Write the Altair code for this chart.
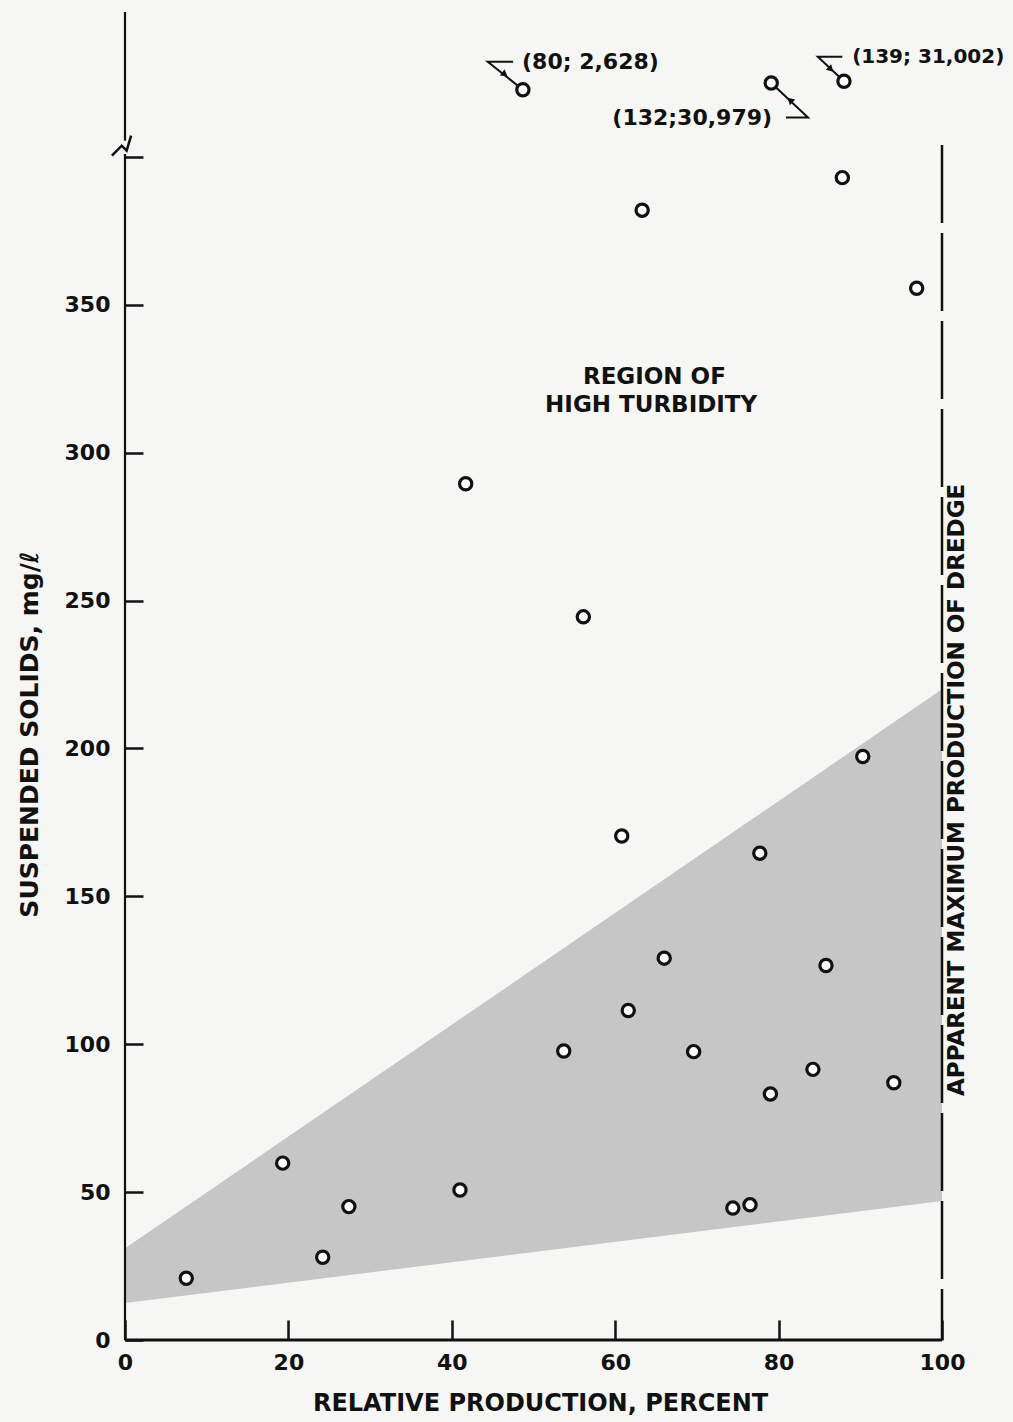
import altair as alt
import pandas as pd

# ---- data ----
prod = [7.5, 19.3, 24.2, 27.4, 41.0, 53.7, 61.6, 66.0, 69.6, 60.8, 56.1, 41.7,
        74.4, 76.5, 77.7, 79.0, 84.2, 85.8, 90.3, 94.1, 96.9, 87.8, 63.3]
solids = [20.9, 59.8, 28.0, 45.1, 50.7, 97.7, 111.4, 129.1, 97.5, 170.4, 244.5, 289.5,
          44.6, 45.7, 164.6, 83.2, 91.5, 126.6, 197.3, 87.0, 355.6, 393.0, 382.0]

# off-scale points (drawn above the axis break), with their true values as labels
off_prod = [48.7, 79.1, 88.0]
off_plot_y = [422.7, 425.0, 425.6]
off_labels = ["(80; 2,628)", "(132;30,979)", "(139; 31,002)"]

# shaded band limits
band_x = [0, 100]
band_low = [12.5, 47.0]
band_high = [31.0, 220.0]

x_ticks = [0, 20, 40, 60, 80, 100]
y_ticks = [0, 50, 100, 150, 200, 250, 300, 350, 400]

max_production = 100
dash_top = 404
y_top = 449

INK = "#111111"
BG = "#f6f6f5"
FONT = "DejaVu Sans"
FW = "bold"

W, H = 817, 1328
YT, XT = 18, 20  # inward tick lengths (px)

xs = alt.Scale(domain=[0, 100], nice=False, zero=True)
ys = alt.Scale(domain=[0, y_top], nice=False, zero=True)

pts = pd.DataFrame({"x": prod, "y": solids})
band = pd.DataFrame({"x": band_x, "lo": band_low, "hi": band_high})

# axes are shifted inward by the tick length so their ticks point into the plot
base_x = alt.X("x:Q", scale=xs,
               axis=alt.Axis(values=x_ticks, ticks=True, tickSize=XT, tickWidth=2.5,
                             tickColor=INK, offset=-XT, domain=False, grid=False,
                             labelPadding=12,
                             labelFontSize=22, labelFont=FONT, labelColor=INK,
                             labelFontWeight=FW,
                             title="RELATIVE PRODUCTION, PERCENT", titleFont=FONT,
                             titleFontSize=24, titleFontWeight=FW, titleColor=INK,
                             titleX=415, titleY=63 + XT, titleBaseline="middle",
                             titleAlign="center", labelFlush=False))
base_y = alt.Y("y:Q", scale=ys,
               axis=alt.Axis(values=y_ticks, ticks=True, tickSize=YT, tickWidth=2.5,
                             tickColor=INK, offset=-YT, domain=False, grid=False,
                             labelPadding=15,
                             labelFontSize=22, labelFont=FONT, labelColor=INK,
                             labelFontWeight=FW,
                             labelExpr="datum.value == 400 ? '' : datum.label",
                             title="SUSPENDED SOLIDS, mg/ℓ", titleFont=FONT,
                             titleFontSize=25, titleFontWeight=FW, titleColor=INK,
                             titleAngle=270, titleX=-96 - YT, titleY=722,
                             titleBaseline="middle", titleAlign="center",
                             labelFlush=False))


def X(f):
    return alt.X(f, scale=xs)


def Y(f):
    return alt.Y(f, scale=ys)


band_layer = alt.Chart(band).mark_area(color="#c6c6c6", opacity=1).encode(
    x=X("x:Q"), y=Y("lo:Q"), y2="hi:Q")

# axis lines
dom = pd.DataFrame({"g": ["x", "x", "y", "y"], "o": [0, 1, 0, 1],
                    "ax": [0, 100, 0, 0], "ay": [0, 0, 0, y_top],
                    "w": [2.8, 2.8, 2.2, 2.2]})
dom_layer = alt.Chart(dom).mark_line(color=INK).encode(
    x=X("ax:Q"), y=Y("ay:Q"), detail="g:N", order="o:Q",
    strokeWidth=alt.StrokeWidth("w:Q", scale=None, legend=None))

# dashed line: apparent maximum production
dash = pd.DataFrame({"dx": [max_production, max_production], "dy": [dash_top, 0], "o": [0, 1]})
dash_layer = alt.Chart(dash).mark_line(color=INK, strokeWidth=2.5, strokeDash=[78, 10]).encode(
    x=X("dx:Q"), y=Y("dy:Q"), order="o:Q")

dash_text = alt.Chart(pd.DataFrame({"x": [max_production], "y": [186.0],
                                    "t": ["APPARENT MAXIMUM PRODUCTION OF DREDGE"]})
                      ).mark_text(angle=270, font=FONT, fontSize=23, fontWeight=FW, color=INK,
                                  dy=15, baseline="middle", align="center").encode(
    x=X("x:Q"), y=Y("y:Q"), text="t:N")

# axis break symbol
brk_bg = alt.Chart(pd.DataFrame({"bx": [0.0, 0.0], "by": [401.0, 405.5], "o": [0, 1]})).mark_line(
    color=BG, strokeWidth=5).encode(x=X("bx:Q"), y=Y("by:Q"), order="o:Q")
brk = pd.DataFrame({"bx": [-1.6, -0.4, 0.2, 0.75], "by": [400.4, 403.8, 402.1, 407.2],
                    "o": [0, 1, 2, 3]})
brk_layer = alt.Chart(brk).mark_line(color=INK, strokeWidth=2.5).encode(
    x=X("bx:Q"), y=Y("by:Q"), order="o:Q")

# leaders for off-scale points
lead = pd.DataFrame({
    "g": ["a", "a", "a", "b", "b", "b", "c", "c", "c"],
    "o": [0, 1, 2, 0, 1, 2, 0, 1, 2],
    "x": [47.5, 44.4, off_prod[0], 80.9, 83.6, off_prod[1], 87.8, 84.8, off_prod[2]],
    "y": [432.2, 432.2, off_plot_y[0], 413.3, 413.3, off_plot_y[1], 433.9, 433.9, off_plot_y[2]],
})
lead_layer = alt.Chart(lead).mark_line(color=INK, strokeWidth=2).encode(
    x=X("x:Q"), y=Y("y:Q"), detail="g:N", order="o:Q")
arrows = pd.DataFrame({"x": [46.5, 81.4, 86.4], "y": [427.9, 419.2, 429.6],
                       "a": [127, 313, 134]})
arrow_layer = alt.Chart(arrows).mark_point(shape="triangle-up", filled=True, color=INK,
                                           size=60, opacity=1).encode(
    x=X("x:Q"), y=Y("y:Q"), angle=alt.Angle("a:Q", scale=None))

lab = pd.DataFrame({"x": [48.6, 79.2, 89.0], "y": [432.2, 413.3, 433.9],
                    "t": off_labels, "al": ["left", "right", "left"],
                    "fs": [22, 22, 20]})
lab_left = alt.Chart(lab[lab.al == "left"]).mark_text(
    align="left", baseline="middle", font=FONT, fontWeight=FW, color=INK).encode(
    x=X("x:Q"), y=Y("y:Q"), text="t:N", size=alt.Size("fs:Q", scale=None, legend=None))
lab_right = alt.Chart(lab[lab.al == "right"]).mark_text(
    align="right", baseline="middle", font=FONT, fontWeight=FW, color=INK).encode(
    x=X("x:Q"), y=Y("y:Q"), text="t:N", size=alt.Size("fs:Q", scale=None, legend=None))

region = pd.DataFrame({"x": [64.8, 64.4], "y": [325.6, 316.2],
                       "t": ["REGION OF", "HIGH TURBIDITY"]})
region_layer = alt.Chart(region).mark_text(
    align="center", baseline="middle", font=FONT, fontSize=23, fontWeight=FW, color=INK).encode(
    x=X("x:Q"), y=Y("y:Q"), text="t:N")

off = pd.DataFrame({"x": off_prod, "y": off_plot_y})
off_layer = alt.Chart(off).mark_point(shape="circle", filled=True, fill="#ffffff",
                                      stroke=INK, strokeWidth=3.2, size=150, opacity=1).encode(
    x=X("x:Q"), y=Y("y:Q"))

pt_axes = alt.Chart(pts).mark_point(opacity=0).encode(x=base_x, y=base_y)

pt_layer = alt.Chart(pts).mark_point(shape="circle", filled=True, fill="#ffffff",
                                     stroke=INK, strokeWidth=3.2, size=150, opacity=1).encode(
    x=X("x:Q"), y=Y("y:Q"))

chart = alt.layer(
    pt_axes, band_layer, dom_layer, dash_layer, dash_text,
    lead_layer, arrow_layer, lab_left, lab_right, region_layer,
    pt_layer, off_layer, brk_bg, brk_layer,
).properties(
    width=W, height=H,
    autosize=alt.AutoSizeParams(type="none"),
    padding={"left": 125, "top": 12, "right": 71, "bottom": 82},
    background=BG,
).configure_view(stroke=None).configure_axis(grid=False, zindex=1)

chart.save("out.html", embed_options={"renderer": "svg", "actions": False})
